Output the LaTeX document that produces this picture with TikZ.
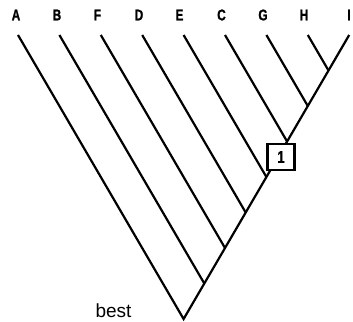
\documentclass[tikz,border=0pt]{standalone}
\usepackage{fontspec}
\setmainfont{Liberation Sans}
\newfontfamily\heavyfont[FakeBold=1.2]{Liberation Sans Bold}
\usepackage{graphicx}
\usepackage{tikz}

% narrow heavy letters for the taxa
\newcommand{\narrowbf}[1]{\scalebox{0.76}[1]{\heavyfont #1}}

\begin{document}
\begin{tikzpicture}[x=1pt,y=-1pt,
  taxon/.style={font=\fontsize{15.5}{15.5}\selectfont,inner sep=0pt},
  branch/.style={line width=2.2pt},
  support/.style={draw,fill=white,line width=2.2pt,inner sep=0pt,
    minimum width=27pt,minimum height=26pt,
    font=\fontsize{17}{17}\selectfont}]

\useasboundingbox (0,0) rectangle (353,321);

% taxa
\node[taxon] (A) at (16,15)    {\narrowbf{A}};
\node[taxon] (B) at (57,15)    {\narrowbf{B}};
\node[taxon] (F) at (97.5,15)  {\narrowbf{F}};
\node[taxon] (D) at (139,15)   {\narrowbf{D}};
\node[taxon] (E) at (179.5,15) {\narrowbf{E}};
\node[taxon] (C) at (221.5,15) {\narrowbf{C}};
\node[taxon] (G) at (263,15)   {\narrowbf{G}};
\node[taxon] (H) at (304,15)   {\narrowbf{H}};
\node[taxon] (I) at (349,15)   {\narrowbf{I}};

% tips of the branches
\coordinate (a) at (18,35);
\coordinate (b) at (59.4,35);
\coordinate (f) at (100.8,35);
\coordinate (d) at (142.2,35);
\coordinate (e) at (183.6,35);
\coordinate (c) at (225,35);
\coordinate (g) at (266.4,35);
\coordinate (h) at (307.8,35);
\coordinate (i) at (349.2,35);

% internal nodes
\coordinate (HI)       at (328.5,70.5);
\coordinate (GHI)      at (307.8,106);
\coordinate (CGHI)     at (287.1,141.5);
\coordinate (ECGHI)    at (266.4,177);
\coordinate (DECGHI)   at (245.7,212.5);
\coordinate (FDECGHI)  at (225,248);
\coordinate (BFDECGHI) at (204.3,283.5);
\coordinate (root)     at (183.6,319);

\draw[branch] (a)--(root)--(BFDECGHI)--(FDECGHI)--(DECGHI)--(ECGHI)
  --(CGHI)--(GHI)--(HI)--(i);

\draw[branch] (b)--(BFDECGHI);
\draw[branch] (f)--(FDECGHI);
\draw[branch] (d)--(DECGHI);
\draw[branch] (e)--(ECGHI);
\draw[branch] (c)--(CGHI);
\draw[branch] (g)--(GHI);
\draw[branch] (h)--(HI);

\node[support] (s1) at (281,157) {\narrowbf{1}};

\node[anchor=base,inner sep=0pt,font=\fontsize{19}{19}\selectfont] (best) at (113.5,317) {best};

\end{tikzpicture}
\end{document}
